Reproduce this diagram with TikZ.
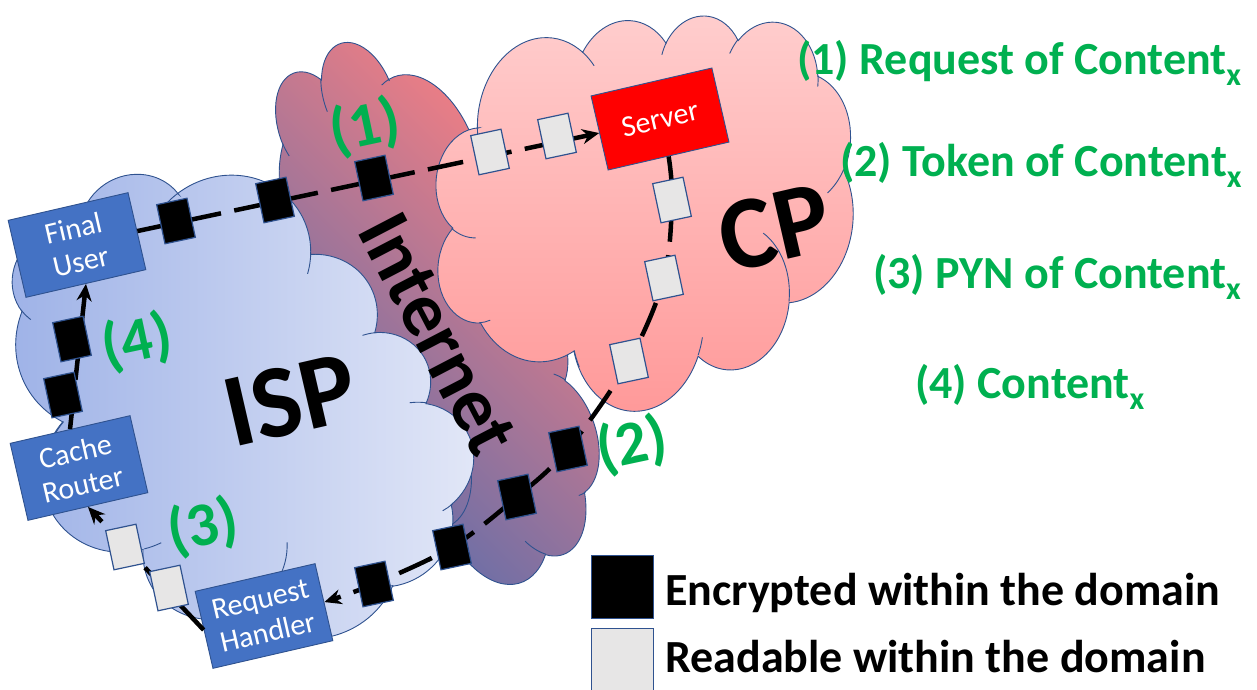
\documentclass[tikz,border=0pt]{standalone}
\usepackage{fontspec}
\setmainfont{Carlito}
\usetikzlibrary{arrows.meta}

\definecolor{outl}{RGB}{47,82,143}
\definecolor{boxblue}{RGB}{68,114,196}
\definecolor{pktgray}{RGB}{231,230,230}
\definecolor{stepgreen}{RGB}{0,176,80}
\definecolor{ispL}{RGB}{158,178,231}
\definecolor{ispR}{RGB}{226,231,247}
\definecolor{netR}{RGB}{255,128,128}
\definecolor{netB}{RGB}{88,108,172}
\definecolor{cpT}{RGB}{255,206,206}
\definecolor{cpB}{RGB}{255,152,152}

% outline of a cloud in a 432 x 432 box (y pointing down)
\newcommand\cloudshape[1]{%
\path[#1] (39,143.7)
 arc[start angle=172.25,end angle=300.36,x radius=67.53,y radius=91.9]
 arc[start angle=-152.02,end angle=-45.44,x radius=53.33,y radius=72.67]
 arc[start angle=-153.48,end angle=-37.33,x radius=43.65,y radius=59.45]
 arc[start angle=-139.72,end angle=-10.22,x radius=48.57,y radius=65.95]
 arc[start angle=-74.77,end angle=23.22,x radius=53.33,y radius=72.73]
 arc[start angle=-37.53,end angle=81.86,x radius=67.75,y radius=92.2]
 arc[start angle=0.46,end angle=121.98,x radius=57.85,y radius=78.67]
 arc[start angle=16.85,end angle=159.1,x radius=67.52,y radius=92.15]
 arc[start angle=58.99,end angle=139.2,x radius=77.2,y radius=105.43]
 arc[start angle=83.3,end angle=223.24,x radius=43.6,y radius=59.18]
 arc[start angle=120.35,end angle=263.96,x radius=43.45,y radius=59.45]
 -- cycle;}
% short inner strokes of the puffs
\newcommand\cloudinner[1]{%
\draw[#1]
 (46.93,261.77) arc[start angle=85.54,end angle=120.35,x radius=43.45,y radius=59.45]
 (69.28,348.99) arc[start angle=68.24,end angle=83.3,x radius=43.6,y radius=59.18]
 (164.78,390.9) arc[start angle=146.23,end angle=158.47,x radius=67.52,y radius=92.15]
 (288.27,347.51) arc[start angle=4.73,end angle=16.85,x radius=67.52,y radius=92.15]
 (341.29,229.54) arc[start angle=-64.03,end angle=0.46,x radius=57.85,y radius=78.67]
 (417.98,153.54) arc[start angle=23.22,end angle=49.64,x radius=53.33,y radius=72.73]
 (383.24,54.26) arc[start angle=-10.22,end angle=0.82,x radius=48.57,y radius=65.95]
 (290.78,39.52) arc[start angle=-156.29,end angle=-139.72,x radius=48.57,y radius=65.95]
 (221.41,47.2) arc[start angle=-167.72,end angle=-153.48,x radius=43.65,y radius=59.45]
 (140,51.92) arc[start angle=-59.64,end angle=-45.75,x radius=67.53,y radius=91.9]
 (41.27,157.89) arc[start angle=163.19,end angle=172.25,x radius=67.53,y radius=91.9];}
% centre x, centre y, rotation, width, height, fill options
\newcommand\drawcloud[6]{%
 \begin{scope}[shift={(#1,#2)},rotate=#3,xscale=#4/432,yscale=#5/432,shift={(-216,-216)}]
  \cloudshape{#6,cloudline}
  \cloudinner{cloudline}
 \end{scope}}

\newcommand\subx{\raisebox{-11pt}{\fontsize{32}{32}\selectfont x}}

\begin{document}
\begin{tikzpicture}[x=1pt,y=-1pt,
  cloudline/.style={draw=outl,line width=0.9pt},
  flow/.style={line width=4.5pt,dash pattern=on 36pt off 13.5pt},
  arrowend/.style={-{Stealth[length=17pt,width=15pt]}},
  pkt/.style={draw=outl,line width=1.2pt,minimum width=31pt,minimum height=40pt,inner sep=0pt,rotate=12},
  enc/.style={pkt,fill=black},
  rdb/.style={pkt,fill=pktgray},
  box/.style={draw=outl,line width=0.9pt,fill=boxblue,text=white,minimum width=123pt,
    minimum height=79pt,inner sep=0pt,rotate=13,align=center,font=\fontsize{30}{34}\selectfont},
  srvbox/.style={box,fill=red,minimum width=124pt,minimum height=76pt},
  num/.style={text=stepgreen,font=\bfseries\fontsize{62}{62}\selectfont,rotate=12,inner sep=0pt},
  big/.style={font=\bfseries\fontsize{104}{104}\selectfont,inner sep=0pt},
  legend/.style={text=stepgreen,font=\bfseries\fontsize{46}{55}\selectfont,anchor=base west,inner sep=0pt},
  keytext/.style={font=\bfseries\fontsize{46}{55}\selectfont,anchor=base west,inner sep=0pt},
  keybox/.style={draw=outl,line width=1.2pt,minimum width=62pt,minimum height=63pt,inner sep=0pt,anchor=north west}]
\useasboundingbox (0,0) rectangle (1257,690);

% domains
\drawcloud{425}{314}{-71}{570}{250}{top color=netR,bottom color=netB,shading angle=-45}
\drawcloud{224}{408}{-60}{510}{400}{left color=ispL,right color=ispR}
\drawcloud{643}{210}{-5}{420}{400}{top color=cpT,bottom color=cpB}

\node[big,rotate=13] (isp) at (290,400) {ISP};
\node[big,rotate=13] (cp) at (775,228) {CP};
\node[font=\bfseries\fontsize{77}{77}\selectfont,inner sep=0pt,rotate=-62.5] (inet) at (438,334) {Internet};

% devices
\node[box] (fu) at (77,245) {Final\\User};
\node[box] (cr) at (79,468) {Cache\\Router};
\node[box] (rh) at (264,616) {Request\\Handler};
\node[srvbox] (srv) at (660,119) {Server};

% points where the packets sit
\coordinate (a1) at (176,221);
\coordinate (a2) at (275,200);
\coordinate (a3) at (374,178);
\coordinate (a4) at (490,152);
\coordinate (a5) at (557,136);
\coordinate (b1) at (672,200);
\coordinate (b2) at (664,278);
\coordinate (b3) at (629,361);
\coordinate (b4) at (568,449);
\coordinate (b5) at (517,497);
\coordinate (b6) at (452,547);
\coordinate (b7) at (374,584);
\coordinate (c1) at (169,588);
\coordinate (c2) at (125,547);
\coordinate (d1) at (72,339);
\coordinate (d2) at (63,395);

% message flows
\draw[flow,arrowend] (fu.east) -- (srv.west);
\draw[flow,arrowend] plot[smooth,tension=0.55] coordinates {(srv.south) (b1) (b2) (b3) (b4) (b5) (b6) (b7) (rh.east)};
\draw[flow,arrowend] (rh.west) -- (cr.south);
\draw[flow,arrowend] (cr.north) -- (fu.south);

% packets
\node[enc] (pa1) at (a1) {};
\node[enc] (pa2) at (a2) {};
\node[enc] (pa3) at (a3) {};
\node[rdb] (pa4) at (a4) {};
\node[rdb] (pa5) at (a5) {};
\node[rdb] (pb1) at (b1) {};
\node[rdb] (pb2) at (b2) {};
\node[rdb] (pb3) at (b3) {};
\node[enc] (pb4) at (b4) {};
\node[enc] (pb5) at (b5) {};
\node[enc] (pb6) at (b6) {};
\node[enc] (pb7) at (b7) {};
\node[rdb] (pc1) at (c1) {};
\node[rdb] (pc2) at (c2) {};
\node[enc] (pd1) at (d1) {};
\node[enc] (pd2) at (d2) {};

% step numbers
\node[num] (n1) at (365,127) {(1)};
\node[num] (n2) at (632,445) {(2)};
\node[num] (n3) at (203,527) {(3)};
\node[num] (n4) at (137,342) {(4)};

% step list
\node[legend] (l1) at (797,75) {(1) Request of Content\subx};
\node[legend] (l2) at (840,176) {(2) Token of Content\subx};
\node[legend] (l3) at (873,288) {(3) PYN of Content\subx};
\node[legend] (l4) at (915,398) {(4) Content\subx};

% key
\node[keybox,fill=black] (kenc) at (591,555) {};
\node[keybox,fill=pktgray] (kread) at (591,628) {};
\node[keytext] (tenc) at (665,605) {Encrypted within the domain};
\node[keytext] (tread) at (665,672) {Readable within the domain};
\end{tikzpicture}
\end{document}
